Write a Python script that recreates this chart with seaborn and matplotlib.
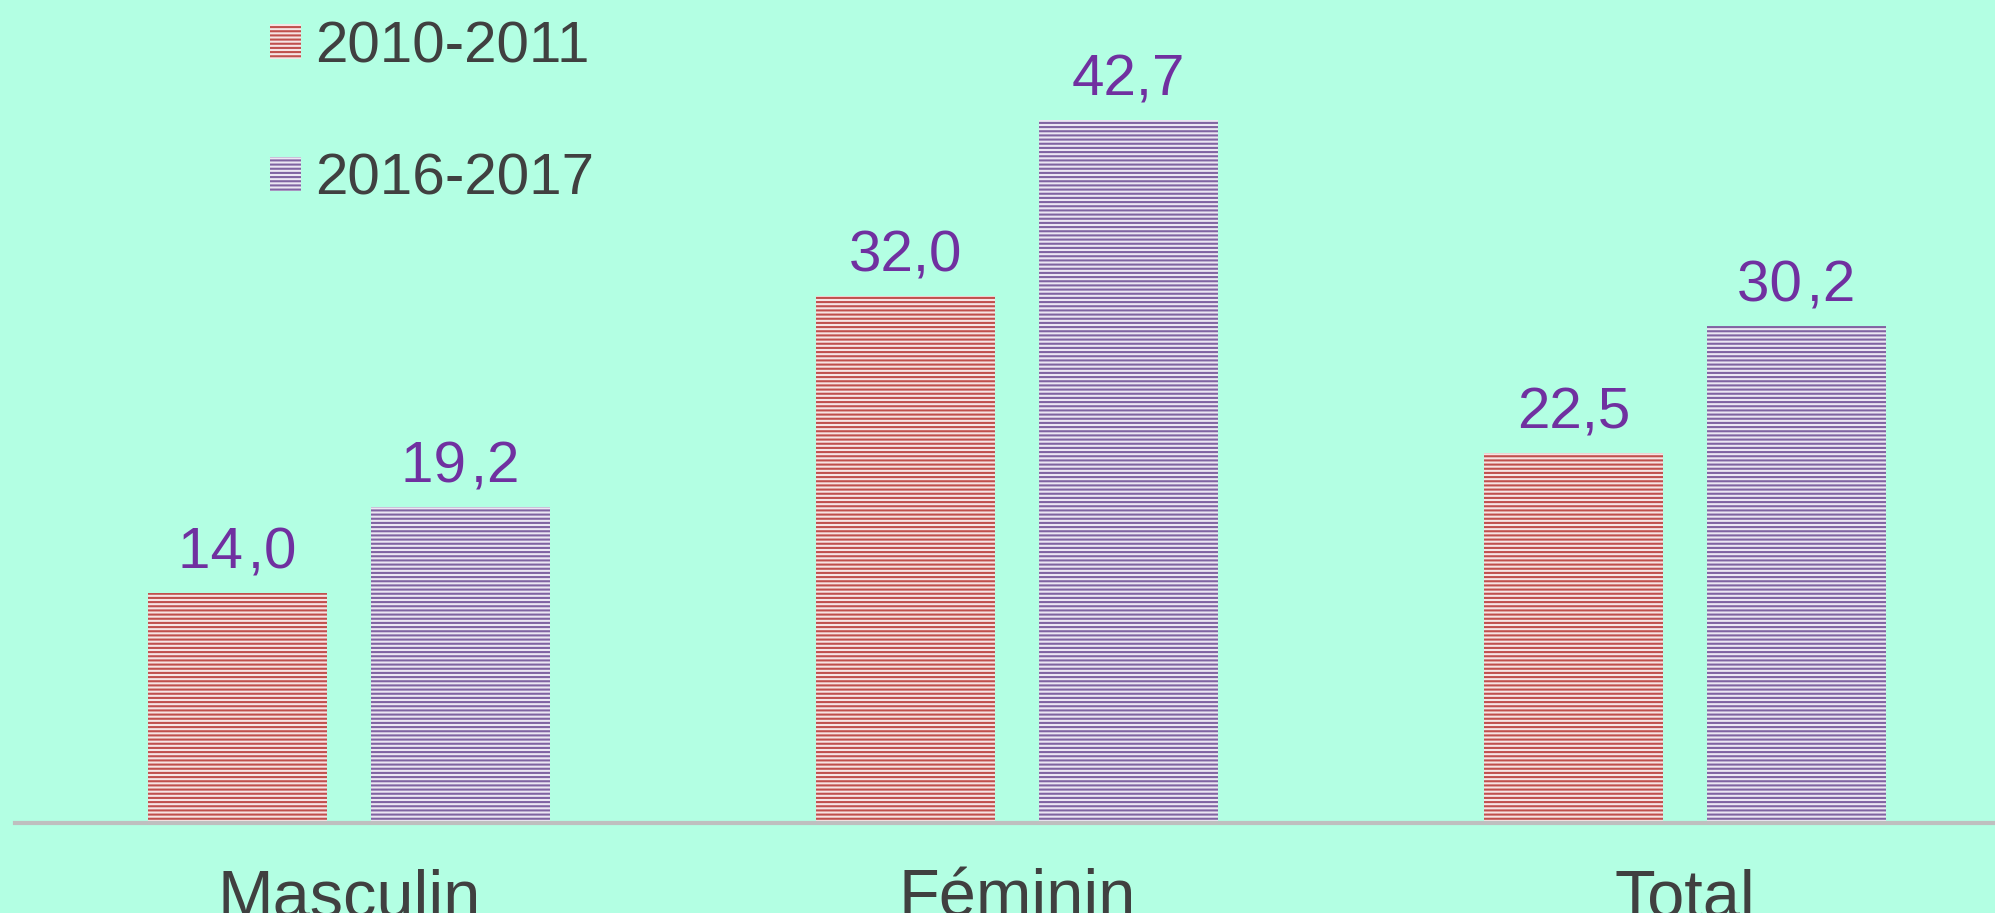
import matplotlib.pyplot as plt
import seaborn as sns
import pandas as pd
from matplotlib.patches import Patch

categories = ["Masculin", "Féminin", "Total"]
periods = ["2010-2011", "2016-2017"]
v_2010 = [14.0, 32.0, 22.5]
v_2016 = [19.2, 42.7, 30.2]
lbl_2010 = ["14\u200a,0", "32,0", "22,5"]
lbl_2016 = ["19\u200a,2", "42,7", "30\u200a,2"]

bg = "#B3FFE3"
line_cols = ["#C0504D", "#8064A2"]
face_cols = ["#F6E4E4", "#ECE7F3"]

df = pd.DataFrame({
    "cat": categories * 2,
    "period": [periods[0]] * 3 + [periods[1]] * 3,
    "val": v_2010 + v_2016,
})

plt.rcParams["font.family"] = ["Liberation Sans", "DejaVu Sans"]
plt.rcParams["hatch.linewidth"] = 1.5

fig = plt.figure(figsize=(19.95, 9.13), dpi=100, facecolor=bg)
ax = fig.add_axes([15 / 1995, 90 / 913, 1980 / 1995, 823 / 913])
ax.set_facecolor(bg)

sns.barplot(data=df, x="cat", y="val", hue="period", hue_order=periods,
            palette=face_cols, width=0.668, gap=0.2, legend=False, ax=ax)

for cont, lc, fc, labs in zip(ax.containers, line_cols, face_cols, [lbl_2010, lbl_2016]):
    for bar in cont:
        bar.set_facecolor(fc)
        bar.set_edgecolor(lc)
        bar.set_hatch("----")
        bar.set_linewidth(0)
    ax.bar_label(cont, labels=labs, padding=9, fontsize=42, color="#7030A0")

ax.set_xlim(-0.5, 2.464)
ax.set_ylim(0, 50)
ax.set_xlabel("")
ax.set_ylabel("")
ax.set_yticks([])
ax.tick_params(axis="x", length=0, pad=33, labelsize=48, labelcolor="#404040")
for s in ["top", "left", "right"]:
    ax.spines[s].set_visible(False)
ax.spines["bottom"].set_color("#BFBFBF")
ax.spines["bottom"].set_linewidth(3)

handles = [Patch(facecolor=fc, edgecolor=lc, hatch="----", linewidth=0, label=p)
           for p, lc, fc in zip(periods, line_cols, face_cols)]
ax.legend(handles=handles, loc="upper left", bbox_to_anchor=(270 / 1995, 0.978),
          bbox_transform=fig.transFigure, frameon=False, fontsize=42,
          labelcolor="#404040", handlelength=0.53, handleheight=0.53,
          handletextpad=0.25, labelspacing=1.35, borderpad=0, borderaxespad=0)

fig.savefig("out.png", dpi=100, facecolor=bg)
